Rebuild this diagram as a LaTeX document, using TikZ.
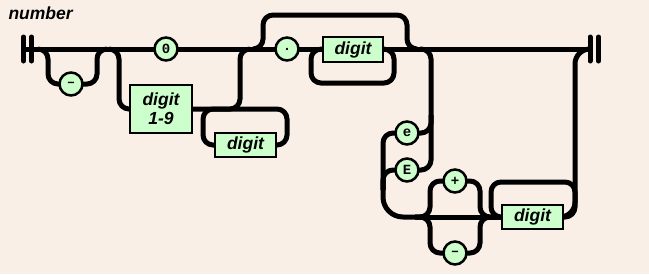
\documentclass[tikz,border=0pt]{standalone}
\usepackage{fontspec}
\setmainfont{Liberation Sans}
\newfontfamily\monofnt{Liberation Mono}
\definecolor{bgc}{HTML}{FAEFE6}
\definecolor{boxg}{HTML}{CCFFCC}
\pgfdeclarelayer{back}
\pgfdeclarelayer{rails}
\pgfsetlayers{back,rails,main}
\begin{document}
\begin{tikzpicture}[x=1pt,y=-1pt,
  rail/.style={line width=5pt, rounded corners=10pt},
  bar/.style={line width=5pt, line cap=round},
  term/.style={circle, draw, line width=2.5pt, fill=boxg, minimum size=23pt, inner sep=0pt,
    font=\monofnt\bfseries\fontsize{14}{14}\selectfont},
  nterm/.style={rectangle, draw, line width=2.5pt, fill=boxg, minimum width=61pt, minimum height=24pt,
    inner sep=0pt, align=center, font=\bfseries\itshape\fontsize{17.5}{19}\selectfont}]
\begin{pgfonlayer}{back}
\fill[bgc] (0,0) rectangle (649,274);
\end{pgfonlayer}
\useasboundingbox (0,0) rectangle (649,274);
\node[anchor=base west, font=\bfseries\itshape\fontsize{17.5}{17.5}\selectfont] (title) at (5,19) {number};
\coordinate (st) at (24,49);
\coordinate (en) at (590,49);
\node[term] (minus) at (71,84) {–};
\node[term] (zero) at (166,49) {0};
\node[nterm, minimum width=62pt, minimum height=48pt] (d19) at (161,109) {digit\\1-9};
\node[nterm] (dA) at (245.5,145) {digit};
\node[term] (dot) at (287,49) {.};
\node[nterm, minimum width=60pt, minimum height=25pt] (dB) at (353,49.5) {digit};
\node[term] (ee) at (407,133) {e};
\node[term] (eE) at (407,170) {E};
\node[term] (plus) at (455,181) {+};
\node[term] (minus2) at (455,253) {–};
\node[nterm] (dC) at (532.5,217) {digit};
\begin{pgfonlayer}{rails}
\draw[rail] (st) -- (en);
\draw[bar] (23.5,37) -- (23.5,61);
\draw[bar] (31.5,37) -- (31.5,61);
\draw[bar] (590,37) -- (590,61);
\draw[bar] (598.5,37) -- (598.5,61);
\draw[rail] (38,49) -- (48,49) -- (48,84) -- (minus.center) -- (97,84) -- (97,49) -- (107,49);
\draw[rail] (109,49) -- (119,49) -- (119,109) -- (d19.center);
\draw[rail] (d19.center) -- (240,109) -- (240,49) -- (250,49);
\draw[rail] (dA.center) -- (203,145) -- (203,109) -- (287,109) -- (287,145) -- (dA.center);
\draw[rail] (253,49) -- (263,49) -- (263,15) -- (407,15) -- (407,49) -- (417,49);
\draw[rail] (dB.center) -- (311,49) -- (311,83) -- (394,83) -- (394,49) -- (dB.center);
\draw[rail] (420,49) -- (431,49) -- (431,170) -- (eE.center);
\draw[rail] (431,115) -- (431,133) -- (ee.center);
\draw[rail] (ee.center) -- (383,133) -- (383,190);
\draw[rail] (eE.center) -- (383,170) -- (383,190);
\draw[rail, rounded corners=20pt] (383,180) -- (383,217) -- (430,217);
\draw[rail] (420,217) -- (dC.center);
\draw[rail] (415,217) -- (430,217) -- (430,181) -- (plus.center) -- (480,181) -- (480,217) -- (495,217);
\draw[rail] (415,217) -- (430,217) -- (430,253) -- (minus2.center) -- (480,253) -- (480,217) -- (495,217);
\draw[rail] (dC.center) -- (575,217) -- (575,182) -- (491,182) -- (491,217) -- (dC.center);
\draw[rail, rounded corners=15pt] (dC.center) -- (575,217) -- (575,49) -- (en);
\end{pgfonlayer}
\end{tikzpicture}
\end{document}
